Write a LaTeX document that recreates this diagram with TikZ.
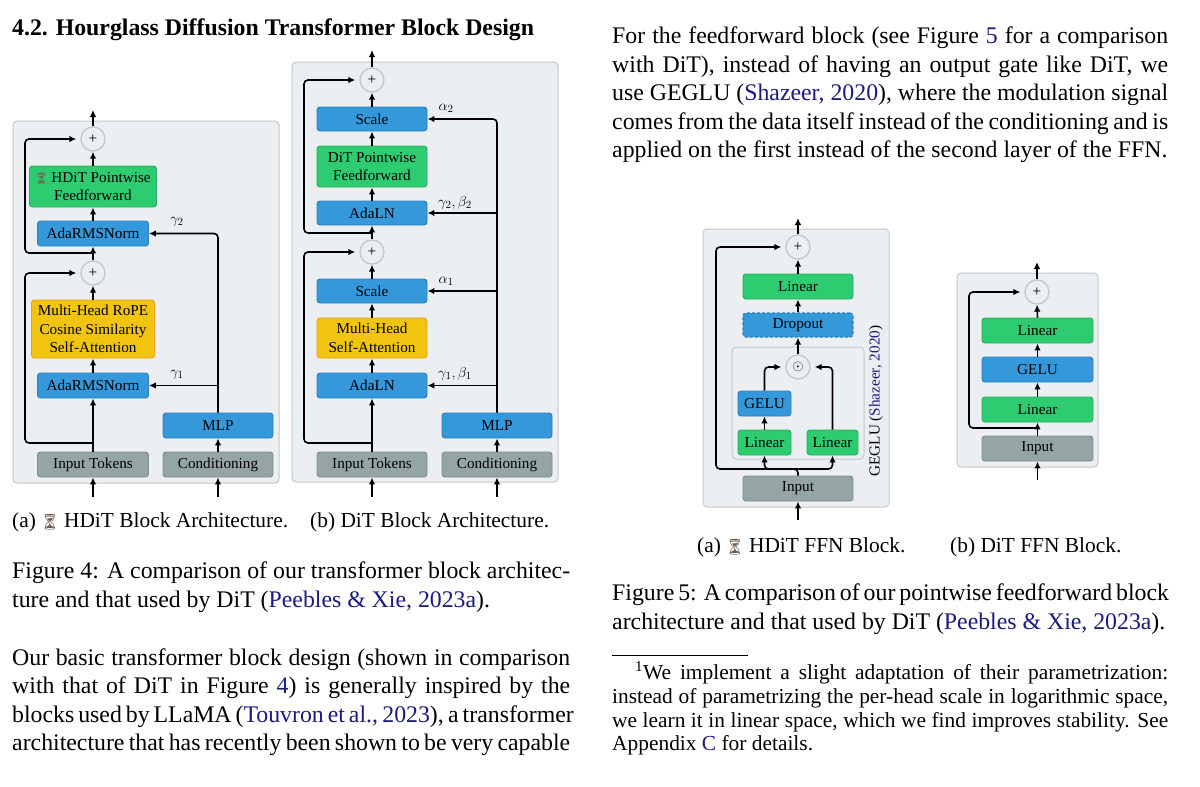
\documentclass[tikz,border=0pt]{standalone}
\usepackage{fontspec}
\usepackage{graphicx}
\setmainfont{Liberation Serif}
\newfontfamily\emojifont{Noto Emoji}
\usetikzlibrary{arrows.meta}
\definecolor{bfill}{HTML}{3498DB}
\definecolor{bdraw}{HTML}{2C80BE}
\definecolor{gfill}{HTML}{2ECC71}
\definecolor{gdraw}{HTML}{27AE60}
\definecolor{ofill}{HTML}{F1C40F}
\definecolor{odraw}{HTML}{F39C12}
\definecolor{yfill}{HTML}{95A5A6}
\definecolor{ydraw}{HTML}{7F8C8D}
\definecolor{panfill}{HTML}{ECEFF1}
\definecolor{pandraw}{HTML}{C3C8CB}
\definecolor{lnk}{HTML}{1A1A80}
\definecolor{hgcol}{HTML}{6D5A4A}
\newcommand\dgfont{\fontsize{15.2}{18.5}\selectfont}
\newcommand\bdfont{\fontsize{23.8}{28.5}\selectfont}
\newcommand\sbfont{\fontsize{21.4}{24}\selectfont}
\newcommand\hdfont{\fontsize{23.8}{28.5}\selectfont\bfseries}
\newcommand\hg{\mbox{\kern-0.05em\emojifont\color{hgcol}\scalebox{0.72}{⏳}\kern-0.05em}}
\newcommand\lk[1]{\textcolor{lnk}{#1}}
\newcommand\jl[2]{\makebox[#1][s]{#2}}
\begin{document}
\begin{tikzpicture}[x=1pt,y=-1pt,
  arr/.style={-{Latex[length=7pt,width=6.5pt]}, line width=1.6pt, black},
  box/.style={rounded corners=3pt, line width=0.9pt, inner sep=0pt, align=center, font=\dgfont},
  bluebox/.style={box, fill=bfill, draw=bdraw},
  greenbox/.style={box, fill=gfill, draw=gdraw},
  orangebox/.style={box, fill=ofill, draw=odraw},
  graybox/.style={box, fill=yfill, draw=ydraw},
  plus/.style={circle, draw=pandraw, fill=panfill, line width=1.3pt, minimum size=24pt, inner sep=0pt, font=\dgfont},
  panel/.style={fill=panfill, draw=pandraw, line width=1pt, rounded corners=4pt},
  lbl/.style={font=\dgfont, inner sep=0pt},
  body/.style={inner sep=0pt, anchor=base west, font=\bdfont},
  small/.style={inner sep=0pt, anchor=base west, font=\sbfont},
]
\useasboundingbox (0,0) rectangle (1200,787);
\fill[white] (0,0) rectangle (1200,787);

% ---------------- text, left column ----------------
\node[body, font=\hdfont] (head) at (12,35) {4.2. Hourglass Diffusion Transformer Block Design};
\node[small] (capA) at (12,527) {(a) \hg{} HDiT Block Architecture.};
\node[small] (capB) at (310,527) {(b) DiT Block Architecture.};
\node[body] (f4a) at (12,578.5) {\jl{558pt}{Figure 4: A comparison of our transformer block architec-}};
\node[body] (f4b) at (12,607) {ture and that used by DiT (\lk{Peebles \& Xie, 2023a}).};
\node[body] (pl1) at (12,665.5) {\jl{558pt}{Our basic transformer block design (shown in comparison}};
\node[body] (pl2) at (12,693.8) {\jl{558pt}{with that of DiT in Figure \lk{4}) is generally inspired by the}};
\node[body] (pl3) at (12,722.1) {\jl{558pt}{blocks used by LLaMA (\lk{Touvron et al., 2023}), a transformer}};
\node[body] (pl4) at (12,750.4) {\jl{558pt}{architecture that has recently been shown to be very capable}};

% ---------------- text, right column ----------------
\node[body] (pr1) at (612,43.5) {\jl{556pt}{For the feedforward block (see Figure \lk{5} for a comparison}};
\node[body] (pr2) at (612,72) {\jl{556pt}{with DiT), instead of having an output gate like DiT, we}};
\node[body] (pr3) at (612,100.5) {\jl{556pt}{use GEGLU (\lk{Shazeer, 2020}), where the modulation signal}};
\node[body] (pr4) at (612,129) {\jl{556pt}{comes from the data itself instead of the conditioning and is}};
\node[body] (pr5) at (612,157.5) {applied on the first instead of the second layer of the FFN.};
\node[small] (capC) at (697,552) {(a) \hg{} HDiT FFN Block.};
\node[small] (capD) at (950,552) {(b) DiT FFN Block.};
\node[body] (f5a) at (612,600.5) {\jl{556pt}{Figure 5: A comparison of our pointwise feedforward block}};
\node[body] (f5b) at (612,629) {architecture and that used by DiT (\lk{Peebles \& Xie, 2023a}).};
\draw[line width=0.8pt] (612,655) -- (748,655);
\node[small] (fn1) at (635,679.5) {\jl{533pt}{\textsuperscript{1}We implement a slight adaptation of their parametrization:}};
\node[small] (fn2) at (612,703.3) {\jl{556pt}{instead of parametrizing the per-head scale in logarithmic space,}};
\node[small] (fn3) at (612,727.1) {\jl{556pt}{we learn it in linear space, which we find improves stability. See}};
\node[small] (fn4) at (612,750.9) {Appendix \lk{C} for details.};

% ================= Figure 4a =================
\draw[panel] (13,121) rectangle (279,483);
\node[plus] (plusA2) at (93,139) {+};
\node[greenbox, minimum width=127pt, minimum height=41pt] (ffA) at (93,186.5) {\hg{} HDiT Pointwise\\Feedforward};
\node[bluebox, minimum width=111pt, minimum height=25pt] (normA2) at (93,233.5) {AdaRMSNorm};
\node[plus] (plusA1) at (93,273) {+};
\node[orangebox, minimum width=123pt, minimum height=58pt] (attnA) at (93,329) {Multi-Head RoPE\\Cosine Similarity\\Self-Attention};
\node[bluebox, minimum width=111pt, minimum height=25pt] (normA1) at (93,385.5) {AdaRMSNorm};
\node[bluebox, minimum width=110pt, minimum height=25pt] (mlpA) at (218,425.5) {MLP};
\node[graybox, minimum width=110pt, minimum height=25pt] (condA) at (218,464.5) {Conditioning};
\node[graybox, minimum width=111pt, minimum height=25pt] (inA) at (93,464.5) {Input Tokens};
\node[lbl] (gA2) at (177,222) {$\gamma_2$};
\node[lbl] (gA1) at (177,375) {$\gamma_1$};
\coordinate (srcA1) at (93,497);
\coordinate (srcA2) at (218,497);
\coordinate (outA) at (93,110);
\coordinate (jA1) at (93,443);
\coordinate (cA1) at (25,443);
\coordinate (dA1) at (25,273);
\coordinate (jA2) at (93,253);
\coordinate (cA2) at (25,253);
\coordinate (dA2) at (25,139);
\draw[arr] (srcA1) -- (inA.south);
\draw[arr] (srcA2) -- (condA.south);
\draw[arr] (inA.north) -- (normA1.south);
\draw[arr, rounded corners=4pt, shorten >=4pt] (jA1) -- (cA1) -- (dA1) -- (plusA1.west);
\draw[arr] (normA1.north) -- (attnA.south);
\draw[arr] (attnA.north) -- (plusA1.south);
\draw[arr] (plusA1.north) -- (normA2.south);
\draw[arr, rounded corners=4pt, shorten >=4pt] (jA2) -- (cA2) -- (dA2) -- (plusA2.west);
\draw[arr] (normA2.north) -- (ffA.south);
\draw[arr] (ffA.north) -- (plusA2.south);
\draw[arr] (plusA2.north) -- (outA);
\draw[arr] (condA.north) -- (mlpA.south);
\draw[arr, rounded corners=4pt] (mlpA.north) |- (normA2.east);
\draw[arr] (mlpA.north |- normA1.east) -- (normA1.east);

% ================= Figure 4b =================
\draw[panel] (292,62) rectangle (558,482);
\node[plus] (plusB2) at (372,80) {+};
\node[bluebox, minimum width=110pt, minimum height=24pt] (scaleB2) at (372,119) {Scale};
\node[greenbox, minimum width=110pt, minimum height=41pt] (ffB) at (372,166.5) {DiT Pointwise\\Feedforward};
\node[bluebox, minimum width=110pt, minimum height=24pt] (normB2) at (372,213) {AdaLN};
\node[plus] (plusB1) at (372,252) {+};
\node[bluebox, minimum width=110pt, minimum height=24pt] (scaleB1) at (372,291) {Scale};
\node[orangebox, minimum width=110pt, minimum height=40pt] (attnB) at (372,338) {Multi-Head\\Self-Attention};
\node[bluebox, minimum width=110pt, minimum height=25pt] (normB1) at (372,385.5) {AdaLN};
\node[bluebox, minimum width=110pt, minimum height=25pt] (mlpB) at (497,425.5) {MLP};
\node[graybox, minimum width=110pt, minimum height=25pt] (condB) at (497,464.5) {Conditioning};
\node[graybox, minimum width=110pt, minimum height=25pt] (inB) at (372,464.5) {Input Tokens};
\node[lbl] (aB2) at (446,108) {$\alpha_2$};
\node[lbl] (gB2) at (455,203) {$\gamma_2,\beta_2$};
\node[lbl] (aB1) at (446,281) {$\alpha_1$};
\node[lbl] (gB1) at (455,374) {$\gamma_1,\beta_1$};
\coordinate (srcB1) at (372,497);
\coordinate (srcB2) at (497,497);
\coordinate (outB) at (372,50);
\coordinate (jB1) at (372,443);
\coordinate (cB1) at (304,443);
\coordinate (dB1) at (304,252);
\coordinate (jB2) at (372,233);
\coordinate (cB2) at (304,233);
\coordinate (dB2) at (304,80);
\draw[arr] (srcB1) -- (inB.south);
\draw[arr] (srcB2) -- (condB.south);
\draw[arr] (inB.north) -- (normB1.south);
\draw[arr, rounded corners=4pt, shorten >=4pt] (jB1) -- (cB1) -- (dB1) -- (plusB1.west);
\draw[arr] (normB1.north) -- (attnB.south);
\draw[arr] (attnB.north) -- (scaleB1.south);
\draw[arr] (scaleB1.north) -- (plusB1.south);
\draw[arr] (plusB1.north) -- (normB2.south);
\draw[arr, rounded corners=4pt, shorten >=4pt] (jB2) -- (cB2) -- (dB2) -- (plusB2.west);
\draw[arr] (normB2.north) -- (ffB.south);
\draw[arr] (ffB.north) -- (scaleB2.south);
\draw[arr] (scaleB2.north) -- (plusB2.south);
\draw[arr] (plusB2.north) -- (outB);
\draw[arr] (condB.north) -- (mlpB.south);
\draw[arr, rounded corners=4pt] (mlpB.north) |- (scaleB2.east);
\draw[arr] (mlpB.north |- normB2.east) -- (normB2.east);
\draw[arr] (mlpB.north |- scaleB1.east) -- (scaleB1.east);
\draw[arr] (mlpB.north |- normB1.east) -- (normB1.east);

% ================= Figure 5a =================
\draw[panel] (703,229) rectangle (889,507);
\draw[panel] (732,347) rectangle (864,459);
\node[plus] (plusC) at (798,247) {+};
\node[greenbox, minimum width=110pt, minimum height=25pt] (linC) at (798,286.5) {Linear};
\node[bluebox, minimum width=110pt, minimum height=24pt, dash pattern=on 3pt off 2pt, line width=1.3pt] (dropC) at (798,325) {Dropout};
\node[plus] (odotC) at (798,367) {$\odot$};
\node[bluebox, minimum width=53pt, minimum height=25pt] (geluC) at (764.5,403.5) {GELU};
\node[greenbox, minimum width=53pt, minimum height=25pt] (lin1C) at (764.5,442.5) {Linear};
\node[greenbox, minimum width=51pt, minimum height=25pt] (lin2C) at (832.5,442.5) {Linear};
\node[graybox, minimum width=110pt, minimum height=25pt] (inC) at (798,488.5) {Input};
\node[lbl, rotate=90] (geglu) at (876,401) {GEGLU (\lk{Shazeer, 2020})};
\coordinate (srcC) at (798,520);
\coordinate (outC) at (798,218);
\coordinate (jC) at (798,469);
\coordinate (cC) at (716,469);
\coordinate (dC) at (716,247);
\draw[arr] (srcC) -- (inC.south);
\draw[arr, rounded corners=4pt] (inC.north) -- (jC) -| (lin1C.south);
\draw[arr, rounded corners=4pt] (jC) -| (lin2C.south);
\draw[arr, rounded corners=4pt, shorten >=4pt] (jC) -- (cC) -- (dC) -- (plusC.west);
\draw[arr] (lin1C.north) -- (geluC.south);
\draw[arr, rounded corners=4pt, shorten >=4pt] (geluC.north) |- (odotC.west);
\draw[arr, rounded corners=4pt, shorten >=4pt] (lin2C.north) |- (odotC.east);
\draw[arr] (odotC.north) -- (dropC.south);
\draw[arr] (dropC.north) -- (linC.south);
\draw[arr] (linC.north) -- (plusC.south);
\draw[arr] (plusC.north) -- (outC);

% ================= Figure 5b =================
\draw[panel] (957,273) rectangle (1098,467);
\node[plus] (plusD) at (1037,292) {+};
\node[greenbox, minimum width=111pt, minimum height=25pt] (lin2D) at (1037.5,330.5) {Linear};
\node[bluebox, minimum width=111pt, minimum height=25pt] (geluD) at (1037.5,369.5) {GELU};
\node[greenbox, minimum width=111pt, minimum height=25pt] (lin1D) at (1037.5,409.5) {Linear};
\node[graybox, minimum width=111pt, minimum height=25pt] (inD) at (1037.5,448.5) {Input};
\coordinate (srcD) at (1037.5,480);
\coordinate (outD) at (1037,262);
\coordinate (jD) at (1037.5,428);
\coordinate (cD) at (969,428);
\coordinate (dD) at (969,292);
\draw[arr] (srcD) -- (inD.south);
\draw[arr] (inD.north) -- (lin1D.south);
\draw[arr, rounded corners=4pt, shorten >=4pt] (jD) -- (cD) -- (dD) -- (plusD.west);
\draw[arr] (lin1D.north) -- (geluD.south);
\draw[arr] (geluD.north) -- (lin2D.south);
\draw[arr] (lin2D.north) -- (plusD.south);
\draw[arr] (plusD.north) -- (outD);
\end{tikzpicture}
\end{document}
